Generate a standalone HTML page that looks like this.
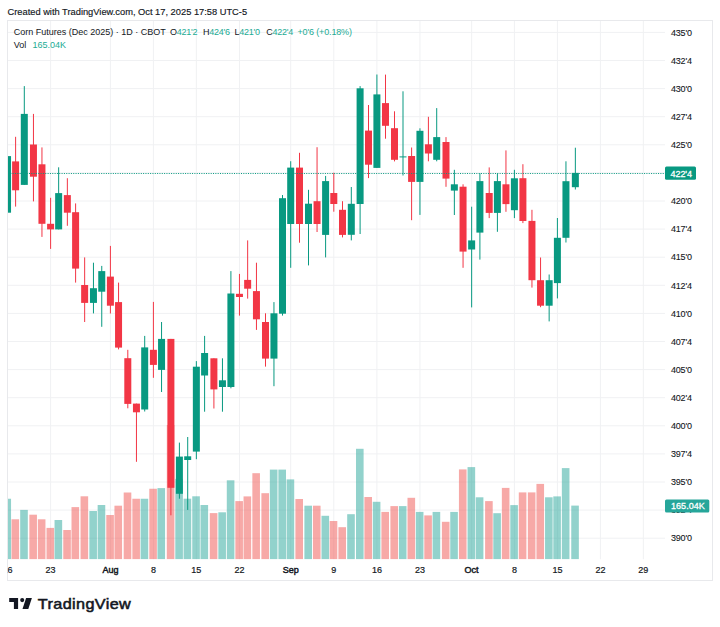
<!DOCTYPE html>
<html><head><meta charset="utf-8"><style>
html,body{margin:0;padding:0;background:#fff;width:720px;height:627px;overflow:hidden}
svg{display:block}
</style></head><body>
<svg width="720" height="627" viewBox="0 0 720 627" font-family="Liberation Sans, sans-serif">
<defs><clipPath id="pane"><rect x="7.5" y="20.5" width="657.5" height="539"/></clipPath>
<clipPath id="timec"><rect x="7.5" y="560" width="657.5" height="20"/></clipPath></defs>
<rect x="0" y="0" width="720" height="627" fill="#fff"/>
<text x="7.5" y="14.6" font-size="9.3" fill="#131722" stroke="#131722" stroke-width="0.15">Created with TradingView.com, Oct 17, 2025 17:58 UTC-5</text>
<g clip-path="url(#pane)">
<line x1="7.5" y1="32.4" x2="665" y2="32.4" stroke="#f0f1f3" stroke-width="1"/><line x1="7.5" y1="60.5" x2="665" y2="60.5" stroke="#f0f1f3" stroke-width="1"/><line x1="7.5" y1="88.6" x2="665" y2="88.6" stroke="#f0f1f3" stroke-width="1"/><line x1="7.5" y1="116.7" x2="665" y2="116.7" stroke="#f0f1f3" stroke-width="1"/><line x1="7.5" y1="144.8" x2="665" y2="144.8" stroke="#f0f1f3" stroke-width="1"/><line x1="7.5" y1="172.9" x2="665" y2="172.9" stroke="#f0f1f3" stroke-width="1"/><line x1="7.5" y1="201.0" x2="665" y2="201.0" stroke="#f0f1f3" stroke-width="1"/><line x1="7.5" y1="229.1" x2="665" y2="229.1" stroke="#f0f1f3" stroke-width="1"/><line x1="7.5" y1="257.2" x2="665" y2="257.2" stroke="#f0f1f3" stroke-width="1"/><line x1="7.5" y1="285.3" x2="665" y2="285.3" stroke="#f0f1f3" stroke-width="1"/><line x1="7.5" y1="313.4" x2="665" y2="313.4" stroke="#f0f1f3" stroke-width="1"/><line x1="7.5" y1="341.5" x2="665" y2="341.5" stroke="#f0f1f3" stroke-width="1"/><line x1="7.5" y1="369.6" x2="665" y2="369.6" stroke="#f0f1f3" stroke-width="1"/><line x1="7.5" y1="397.7" x2="665" y2="397.7" stroke="#f0f1f3" stroke-width="1"/><line x1="7.5" y1="425.8" x2="665" y2="425.8" stroke="#f0f1f3" stroke-width="1"/><line x1="7.5" y1="453.9" x2="665" y2="453.9" stroke="#f0f1f3" stroke-width="1"/><line x1="7.5" y1="482.0" x2="665" y2="482.0" stroke="#f0f1f3" stroke-width="1"/><line x1="7.5" y1="510.1" x2="665" y2="510.1" stroke="#f0f1f3" stroke-width="1"/><line x1="7.5" y1="538.2" x2="665" y2="538.2" stroke="#f0f1f3" stroke-width="1"/><line x1="7.54" y1="20.5" x2="7.54" y2="559.5" stroke="#f0f1f3" stroke-width="1"/><line x1="50.6" y1="20.5" x2="50.6" y2="559.5" stroke="#f0f1f3" stroke-width="1"/><line x1="110.4" y1="20.5" x2="110.4" y2="559.5" stroke="#f0f1f3" stroke-width="1"/><line x1="153.4" y1="20.5" x2="153.4" y2="559.5" stroke="#f0f1f3" stroke-width="1"/><line x1="196.35" y1="20.5" x2="196.35" y2="559.5" stroke="#f0f1f3" stroke-width="1"/><line x1="239.45" y1="20.5" x2="239.45" y2="559.5" stroke="#f0f1f3" stroke-width="1"/><line x1="290.7" y1="20.5" x2="290.7" y2="559.5" stroke="#f0f1f3" stroke-width="1"/><line x1="333.8" y1="20.5" x2="333.8" y2="559.5" stroke="#f0f1f3" stroke-width="1"/><line x1="376.9" y1="20.5" x2="376.9" y2="559.5" stroke="#f0f1f3" stroke-width="1"/><line x1="419.95" y1="20.5" x2="419.95" y2="559.5" stroke="#f0f1f3" stroke-width="1"/><line x1="471.65" y1="20.5" x2="471.65" y2="559.5" stroke="#f0f1f3" stroke-width="1"/><line x1="514.4" y1="20.5" x2="514.4" y2="559.5" stroke="#f0f1f3" stroke-width="1"/><line x1="557.4" y1="20.5" x2="557.4" y2="559.5" stroke="#f0f1f3" stroke-width="1"/><line x1="600.39" y1="20.5" x2="600.39" y2="559.5" stroke="#f0f1f3" stroke-width="1"/><line x1="643.35" y1="20.5" x2="643.35" y2="559.5" stroke="#f0f1f3" stroke-width="1"/><rect x="7.50" y="498.75" width="3.54" height="60.45" fill="rgba(38,166,154,0.5)"/><rect x="11.50" y="519.30" width="7.60" height="39.90" fill="rgba(239,83,80,0.5)"/><rect x="20.20" y="509.90" width="7.60" height="49.30" fill="rgba(38,166,154,0.5)"/><rect x="29.35" y="514.70" width="7.60" height="44.50" fill="rgba(239,83,80,0.5)"/><rect x="37.85" y="519.30" width="7.60" height="39.90" fill="rgba(239,83,80,0.5)"/><rect x="46.50" y="527.90" width="7.60" height="31.30" fill="rgba(239,83,80,0.5)"/><rect x="54.55" y="520.00" width="7.60" height="39.20" fill="rgba(38,166,154,0.5)"/><rect x="63.25" y="530.00" width="7.60" height="29.20" fill="rgba(239,83,80,0.5)"/><rect x="71.50" y="507.10" width="7.60" height="52.10" fill="rgba(239,83,80,0.5)"/><rect x="80.55" y="496.30" width="7.60" height="62.90" fill="rgba(239,83,80,0.5)"/><rect x="89.35" y="511.00" width="7.60" height="48.20" fill="rgba(38,166,154,0.5)"/><rect x="97.65" y="505.00" width="7.60" height="54.20" fill="rgba(38,166,154,0.5)"/><rect x="106.30" y="515.00" width="7.60" height="44.20" fill="rgba(239,83,80,0.5)"/><rect x="114.45" y="505.70" width="7.60" height="53.50" fill="rgba(239,83,80,0.5)"/><rect x="123.70" y="492.50" width="7.60" height="66.70" fill="rgba(239,83,80,0.5)"/><rect x="132.35" y="498.75" width="7.60" height="60.45" fill="rgba(239,83,80,0.5)"/><rect x="140.60" y="498.75" width="7.60" height="60.45" fill="rgba(38,166,154,0.5)"/><rect x="149.30" y="488.75" width="7.60" height="70.45" fill="rgba(239,83,80,0.5)"/><rect x="157.45" y="488.10" width="7.60" height="71.10" fill="rgba(38,166,154,0.5)"/><rect x="166.80" y="425.00" width="7.60" height="134.20" fill="rgba(239,83,80,0.5)"/><rect x="175.30" y="478.90" width="7.60" height="80.30" fill="rgba(38,166,154,0.5)"/><rect x="183.60" y="498.70" width="7.60" height="60.50" fill="rgba(38,166,154,0.5)"/><rect x="192.25" y="496.30" width="7.60" height="62.90" fill="rgba(38,166,154,0.5)"/><rect x="200.50" y="505.00" width="7.60" height="54.20" fill="rgba(38,166,154,0.5)"/><rect x="209.80" y="513.10" width="7.60" height="46.10" fill="rgba(239,83,80,0.5)"/><rect x="218.35" y="512.30" width="7.60" height="46.90" fill="rgba(38,166,154,0.5)"/><rect x="226.80" y="480.30" width="7.60" height="78.90" fill="rgba(38,166,154,0.5)"/><rect x="235.35" y="501.10" width="7.60" height="58.10" fill="rgba(239,83,80,0.5)"/><rect x="243.55" y="496.40" width="7.60" height="62.80" fill="rgba(239,83,80,0.5)"/><rect x="252.35" y="473.20" width="7.60" height="86.00" fill="rgba(239,83,80,0.5)"/><rect x="261.40" y="493.20" width="7.60" height="66.00" fill="rgba(239,83,80,0.5)"/><rect x="269.85" y="469.60" width="7.60" height="89.60" fill="rgba(38,166,154,0.5)"/><rect x="278.40" y="469.60" width="7.60" height="89.60" fill="rgba(38,166,154,0.5)"/><rect x="286.60" y="479.40" width="7.60" height="79.80" fill="rgba(38,166,154,0.5)"/><rect x="295.40" y="499.00" width="7.60" height="60.20" fill="rgba(239,83,80,0.5)"/><rect x="304.40" y="505.70" width="7.60" height="53.50" fill="rgba(38,166,154,0.5)"/><rect x="312.95" y="505.70" width="7.60" height="53.50" fill="rgba(239,83,80,0.5)"/><rect x="321.50" y="515.80" width="7.60" height="43.40" fill="rgba(38,166,154,0.5)"/><rect x="329.70" y="521.00" width="7.60" height="38.20" fill="rgba(239,83,80,0.5)"/><rect x="338.40" y="527.20" width="7.60" height="32.00" fill="rgba(239,83,80,0.5)"/><rect x="347.20" y="514.20" width="7.60" height="45.00" fill="rgba(38,166,154,0.5)"/><rect x="356.00" y="448.80" width="7.60" height="110.40" fill="rgba(38,166,154,0.5)"/><rect x="364.40" y="497.00" width="7.60" height="62.20" fill="rgba(239,83,80,0.5)"/><rect x="372.80" y="501.80" width="7.60" height="57.40" fill="rgba(38,166,154,0.5)"/><rect x="381.40" y="511.90" width="7.60" height="47.30" fill="rgba(239,83,80,0.5)"/><rect x="390.40" y="506.10" width="7.60" height="53.10" fill="rgba(239,83,80,0.5)"/><rect x="398.90" y="506.10" width="7.60" height="53.10" fill="rgba(38,166,154,0.5)"/><rect x="407.50" y="497.80" width="7.60" height="61.40" fill="rgba(239,83,80,0.5)"/><rect x="415.85" y="511.90" width="7.60" height="47.30" fill="rgba(38,166,154,0.5)"/><rect x="424.30" y="515.40" width="7.60" height="43.80" fill="rgba(239,83,80,0.5)"/><rect x="432.60" y="511.90" width="7.60" height="47.30" fill="rgba(38,166,154,0.5)"/><rect x="441.90" y="521.80" width="7.60" height="37.40" fill="rgba(239,83,80,0.5)"/><rect x="450.25" y="511.90" width="7.60" height="47.30" fill="rgba(38,166,154,0.5)"/><rect x="458.95" y="469.40" width="7.60" height="89.80" fill="rgba(239,83,80,0.5)"/><rect x="467.55" y="467.10" width="7.60" height="92.10" fill="rgba(38,166,154,0.5)"/><rect x="475.80" y="497.30" width="7.60" height="61.90" fill="rgba(38,166,154,0.5)"/><rect x="485.10" y="501.10" width="7.60" height="58.10" fill="rgba(239,83,80,0.5)"/><rect x="493.30" y="513.20" width="7.60" height="46.00" fill="rgba(38,166,154,0.5)"/><rect x="501.85" y="487.90" width="7.60" height="71.30" fill="rgba(239,83,80,0.5)"/><rect x="510.30" y="505.10" width="7.60" height="54.10" fill="rgba(38,166,154,0.5)"/><rect x="518.80" y="492.40" width="7.60" height="66.80" fill="rgba(239,83,80,0.5)"/><rect x="527.85" y="492.40" width="7.60" height="66.80" fill="rgba(239,83,80,0.5)"/><rect x="536.45" y="483.90" width="7.60" height="75.30" fill="rgba(239,83,80,0.5)"/><rect x="545.05" y="497.30" width="7.60" height="61.90" fill="rgba(38,166,154,0.5)"/><rect x="553.30" y="496.40" width="7.60" height="62.80" fill="rgba(38,166,154,0.5)"/><rect x="561.85" y="468.10" width="7.60" height="91.10" fill="rgba(38,166,154,0.5)"/><rect x="571.25" y="505.60" width="7.60" height="53.60" fill="rgba(38,166,154,0.5)"/><rect x="7.04" y="156.10" width="1" height="56.60" fill="#089981"/><rect x="7.50" y="156.10" width="3.54" height="56.60" fill="#089981"/><rect x="15.10" y="136.80" width="1" height="69.80" fill="#f23645"/><rect x="12.10" y="161.40" width="7.00" height="28.90" fill="#f23645"/><rect x="23.80" y="86.10" width="1" height="98.80" fill="#089981"/><rect x="20.80" y="113.90" width="7.00" height="71.00" fill="#089981"/><rect x="32.95" y="113.90" width="1" height="87.50" fill="#f23645"/><rect x="29.95" y="144.50" width="7.00" height="32.20" fill="#f23645"/><rect x="41.45" y="147.40" width="1" height="89.50" fill="#f23645"/><rect x="38.45" y="164.30" width="7.00" height="59.50" fill="#f23645"/><rect x="50.10" y="197.80" width="1" height="51.10" fill="#f23645"/><rect x="47.10" y="223.80" width="7.00" height="5.60" fill="#f23645"/><rect x="58.15" y="167.30" width="1" height="62.10" fill="#089981"/><rect x="55.15" y="193.10" width="7.00" height="36.30" fill="#089981"/><rect x="66.85" y="178.20" width="1" height="47.60" fill="#f23645"/><rect x="63.85" y="195.10" width="7.00" height="17.60" fill="#f23645"/><rect x="75.10" y="203.40" width="1" height="79.20" fill="#f23645"/><rect x="72.10" y="212.20" width="7.00" height="56.40" fill="#f23645"/><rect x="84.15" y="257.40" width="1" height="64.60" fill="#f23645"/><rect x="81.15" y="285.00" width="7.00" height="17.90" fill="#f23645"/><rect x="92.95" y="262.70" width="1" height="50.70" fill="#089981"/><rect x="89.95" y="288.20" width="7.00" height="14.70" fill="#089981"/><rect x="101.25" y="265.90" width="1" height="60.90" fill="#089981"/><rect x="98.25" y="271.10" width="7.00" height="20.60" fill="#089981"/><rect x="109.90" y="245.90" width="1" height="67.60" fill="#f23645"/><rect x="106.90" y="276.60" width="7.00" height="29.10" fill="#f23645"/><rect x="118.05" y="282.60" width="1" height="66.80" fill="#f23645"/><rect x="115.05" y="302.10" width="7.00" height="45.50" fill="#f23645"/><rect x="127.30" y="349.80" width="1" height="58.50" fill="#f23645"/><rect x="124.30" y="358.20" width="7.00" height="45.70" fill="#f23645"/><rect x="135.95" y="403.60" width="1" height="58.20" fill="#f23645"/><rect x="132.95" y="403.60" width="7.00" height="8.70" fill="#f23645"/><rect x="144.20" y="335.90" width="1" height="75.60" fill="#089981"/><rect x="141.20" y="347.40" width="7.00" height="62.10" fill="#089981"/><rect x="152.90" y="301.90" width="1" height="75.90" fill="#f23645"/><rect x="149.90" y="349.80" width="7.00" height="15.10" fill="#f23645"/><rect x="161.05" y="322.00" width="1" height="70.00" fill="#089981"/><rect x="158.05" y="338.90" width="7.00" height="31.00" fill="#089981"/><rect x="170.40" y="338.90" width="1" height="176.40" fill="#f23645"/><rect x="167.40" y="338.90" width="7.00" height="148.90" fill="#f23645"/><rect x="178.90" y="442.60" width="1" height="56.10" fill="#089981"/><rect x="175.90" y="456.60" width="7.00" height="37.20" fill="#089981"/><rect x="187.20" y="437.00" width="1" height="72.90" fill="#089981"/><rect x="184.20" y="456.30" width="7.00" height="3.70" fill="#089981"/><rect x="195.85" y="361.10" width="1" height="98.10" fill="#089981"/><rect x="192.85" y="366.70" width="7.00" height="84.90" fill="#089981"/><rect x="204.10" y="335.90" width="1" height="75.80" fill="#089981"/><rect x="201.10" y="353.00" width="7.00" height="22.50" fill="#089981"/><rect x="213.40" y="358.30" width="1" height="50.20" fill="#f23645"/><rect x="210.40" y="358.30" width="7.00" height="31.10" fill="#f23645"/><rect x="221.95" y="358.30" width="1" height="53.40" fill="#089981"/><rect x="218.95" y="380.30" width="7.00" height="6.70" fill="#089981"/><rect x="230.40" y="271.10" width="1" height="117.20" fill="#089981"/><rect x="227.40" y="293.50" width="7.00" height="93.50" fill="#089981"/><rect x="238.95" y="273.90" width="1" height="41.70" fill="#f23645"/><rect x="235.95" y="293.80" width="7.00" height="3.20" fill="#f23645"/><rect x="247.15" y="240.40" width="1" height="58.20" fill="#f23645"/><rect x="244.15" y="279.90" width="7.00" height="8.80" fill="#f23645"/><rect x="255.95" y="262.70" width="1" height="67.20" fill="#f23645"/><rect x="252.95" y="291.10" width="7.00" height="28.20" fill="#f23645"/><rect x="265.00" y="313.30" width="1" height="53.30" fill="#f23645"/><rect x="262.00" y="322.00" width="7.00" height="36.60" fill="#f23645"/><rect x="273.45" y="302.10" width="1" height="84.10" fill="#089981"/><rect x="270.45" y="313.30" width="7.00" height="45.30" fill="#089981"/><rect x="282.00" y="195.00" width="1" height="120.60" fill="#089981"/><rect x="279.00" y="198.20" width="7.00" height="115.50" fill="#089981"/><rect x="290.20" y="161.20" width="1" height="106.60" fill="#089981"/><rect x="287.20" y="167.60" width="7.00" height="56.40" fill="#089981"/><rect x="299.00" y="152.80" width="1" height="89.90" fill="#f23645"/><rect x="296.00" y="167.60" width="7.00" height="56.40" fill="#f23645"/><rect x="308.00" y="189.80" width="1" height="75.60" fill="#089981"/><rect x="305.00" y="203.70" width="7.00" height="20.30" fill="#089981"/><rect x="316.55" y="147.20" width="1" height="84.80" fill="#f23645"/><rect x="313.55" y="201.20" width="7.00" height="22.80" fill="#f23645"/><rect x="325.10" y="175.90" width="1" height="81.50" fill="#089981"/><rect x="322.10" y="181.10" width="7.00" height="53.80" fill="#089981"/><rect x="333.30" y="172.70" width="1" height="39.00" fill="#f23645"/><rect x="330.30" y="193.00" width="7.00" height="11.00" fill="#f23645"/><rect x="342.00" y="201.20" width="1" height="36.20" fill="#f23645"/><rect x="339.00" y="209.80" width="7.00" height="25.10" fill="#f23645"/><rect x="350.80" y="187.00" width="1" height="53.40" fill="#089981"/><rect x="347.80" y="203.80" width="7.00" height="31.00" fill="#089981"/><rect x="359.60" y="86.10" width="1" height="147.90" fill="#089981"/><rect x="356.60" y="88.30" width="7.00" height="115.70" fill="#089981"/><rect x="368.00" y="105.00" width="1" height="73.10" fill="#f23645"/><rect x="365.00" y="130.60" width="7.00" height="34.10" fill="#f23645"/><rect x="376.40" y="74.50" width="1" height="93.40" fill="#089981"/><rect x="373.40" y="94.40" width="7.00" height="73.50" fill="#089981"/><rect x="385.00" y="74.60" width="1" height="64.10" fill="#f23645"/><rect x="382.00" y="103.10" width="7.00" height="22.70" fill="#f23645"/><rect x="394.00" y="111.30" width="1" height="50.10" fill="#f23645"/><rect x="391.00" y="128.20" width="7.00" height="31.60" fill="#f23645"/><rect x="402.50" y="91.30" width="1" height="84.20" fill="#089981"/><rect x="399.50" y="156.40" width="7.00" height="1.00" fill="#089981"/><rect x="411.10" y="147.50" width="1" height="72.70" fill="#f23645"/><rect x="408.10" y="156.00" width="7.00" height="25.90" fill="#f23645"/><rect x="419.45" y="128.30" width="1" height="86.60" fill="#089981"/><rect x="416.45" y="130.80" width="7.00" height="51.10" fill="#089981"/><rect x="427.90" y="116.80" width="1" height="44.50" fill="#f23645"/><rect x="424.90" y="144.30" width="7.00" height="9.20" fill="#f23645"/><rect x="436.20" y="108.10" width="1" height="53.20" fill="#089981"/><rect x="433.20" y="137.10" width="7.00" height="22.70" fill="#089981"/><rect x="445.50" y="137.10" width="1" height="49.70" fill="#f23645"/><rect x="442.50" y="142.00" width="7.00" height="36.60" fill="#f23645"/><rect x="453.85" y="169.80" width="1" height="45.20" fill="#089981"/><rect x="450.85" y="184.30" width="7.00" height="6.30" fill="#089981"/><rect x="462.55" y="184.30" width="1" height="83.50" fill="#f23645"/><rect x="459.55" y="186.70" width="7.00" height="64.90" fill="#f23645"/><rect x="471.15" y="206.70" width="1" height="100.70" fill="#089981"/><rect x="468.15" y="240.40" width="7.00" height="9.10" fill="#089981"/><rect x="479.40" y="173.20" width="1" height="86.40" fill="#089981"/><rect x="476.40" y="181.10" width="7.00" height="51.50" fill="#089981"/><rect x="488.70" y="167.40" width="1" height="50.70" fill="#f23645"/><rect x="485.70" y="193.00" width="7.00" height="19.90" fill="#f23645"/><rect x="496.90" y="173.20" width="1" height="58.60" fill="#089981"/><rect x="493.90" y="181.10" width="7.00" height="31.80" fill="#089981"/><rect x="505.45" y="150.40" width="1" height="61.40" fill="#f23645"/><rect x="502.45" y="184.30" width="7.00" height="19.80" fill="#f23645"/><rect x="513.90" y="169.80" width="1" height="48.30" fill="#089981"/><rect x="510.90" y="178.30" width="7.00" height="31.90" fill="#089981"/><rect x="522.40" y="164.20" width="1" height="58.90" fill="#f23645"/><rect x="519.40" y="178.20" width="7.00" height="42.80" fill="#f23645"/><rect x="531.45" y="209.80" width="1" height="77.80" fill="#f23645"/><rect x="528.45" y="220.90" width="7.00" height="59.30" fill="#f23645"/><rect x="540.05" y="257.50" width="1" height="49.70" fill="#f23645"/><rect x="537.05" y="280.20" width="7.00" height="25.50" fill="#f23645"/><rect x="548.65" y="274.50" width="1" height="46.90" fill="#089981"/><rect x="545.65" y="280.20" width="7.00" height="25.50" fill="#089981"/><rect x="556.90" y="218.00" width="1" height="80.40" fill="#089981"/><rect x="553.90" y="237.80" width="7.00" height="45.30" fill="#089981"/><rect x="565.45" y="161.30" width="1" height="81.20" fill="#089981"/><rect x="562.45" y="181.20" width="7.00" height="56.60" fill="#089981"/><rect x="574.85" y="147.70" width="1" height="41.80" fill="#089981"/><rect x="571.85" y="172.90" width="7.00" height="14.30" fill="#089981"/>
<line x1="8" y1="173.5" x2="664" y2="173.5" stroke="#089981" stroke-width="1" stroke-dasharray="1 1.33"/>
</g>
<rect x="7.5" y="20.5" width="705" height="560" fill="none" stroke="#e8e9ec" stroke-width="1"/>
<g font-size="9" fill="#131722" stroke-width="0.15">
<text x="13.75" y="35"><tspan>Corn Futures (Dec 2025) · 1D · CBOT</tspan></text>
<text y="35" letter-spacing="-0.25"><tspan x="170">O</tspan><tspan fill="#22ab94">421'2</tspan><tspan x="203">H</tspan><tspan fill="#22ab94">424'6</tspan><tspan x="234.5">L</tspan><tspan fill="#22ab94">421'0</tspan><tspan x="266.2">C</tspan><tspan fill="#22ab94">422'4</tspan><tspan x="297.5" fill="#22ab94" letter-spacing="-0.15">+0'6 (+0.18%)</tspan></text>
<text x="13.75" y="47.9">Vol<tspan x="32.5" fill="#22ab94">165.04K</tspan></text>
</g>
<g font-size="9" fill="#131722" letter-spacing="-0.2" stroke="#131722" stroke-width="0.1">
<text x="671" y="35.6">435'0</text><text x="671" y="63.7">432'4</text><text x="671" y="91.8">430'0</text><text x="671" y="119.9">427'4</text><text x="671" y="148.0">425'0</text><text x="671" y="176.1">422'4</text><text x="671" y="204.2">420'0</text><text x="671" y="232.3">417'4</text><text x="671" y="260.4">415'0</text><text x="671" y="288.5">412'4</text><text x="671" y="316.6">410'0</text><text x="671" y="344.7">407'4</text><text x="671" y="372.8">405'0</text><text x="671" y="400.9">402'4</text><text x="671" y="429.0">400'0</text><text x="671" y="457.1">397'4</text><text x="671" y="485.2">395'0</text><text x="671" y="513.3">392'4</text><text x="671" y="541.4">390'0</text>
</g>
<rect x="665" y="166.6" width="31" height="13.2" rx="1.5" fill="#089981"/>
<text x="670.6" y="176.5" font-size="9" fill="#fff" letter-spacing="-0.1" stroke="#fff" stroke-width="0.3">422'4</text>
<rect x="665" y="499.4" width="44.3" height="13.1" rx="1.5" fill="#26a69a"/>
<text x="671" y="509.2" font-size="9" fill="#fff" stroke="#fff" stroke-width="0.3" letter-spacing="0.05">165.04K</text>
<g font-size="9" fill="#131722" clip-path="url(#timec)" stroke="#131722" stroke-width="0.2">
<text x="7.5" y="573" text-anchor="middle">16</text><text x="50.6" y="573" text-anchor="middle">23</text><text x="110.4" y="573" text-anchor="middle" stroke="#131722" stroke-width="0.45">Aug</text><text x="153.4" y="573" text-anchor="middle">8</text><text x="196.3" y="573" text-anchor="middle">15</text><text x="239.4" y="573" text-anchor="middle">22</text><text x="290.7" y="573" text-anchor="middle" stroke="#131722" stroke-width="0.45">Sep</text><text x="333.8" y="573" text-anchor="middle">9</text><text x="376.9" y="573" text-anchor="middle">16</text><text x="419.9" y="573" text-anchor="middle">23</text><text x="471.6" y="573" text-anchor="middle" stroke="#131722" stroke-width="0.45">Oct</text><text x="514.4" y="573" text-anchor="middle">8</text><text x="557.4" y="573" text-anchor="middle">15</text><text x="600.4" y="573" text-anchor="middle">22</text><text x="643.3" y="573" text-anchor="middle">29</text>
</g>
<g fill="#131722">
<path d="M9.2 598 H18.1 V608.9 H13.9 V601.9 H9.2 Z"/>
<circle cx="22.2" cy="600.1" r="2.05"/>
<path d="M26.1 598 H31.9 L28.3 608.9 H22.5 Z"/>
</g>
<text transform="translate(37.8 608.7) scale(1.08 1)" x="0" y="0" font-size="15" font-weight="400" letter-spacing="0.35" fill="#131722" stroke="#131722" stroke-width="0.55">TradingView</text>
</svg>
</body></html>
